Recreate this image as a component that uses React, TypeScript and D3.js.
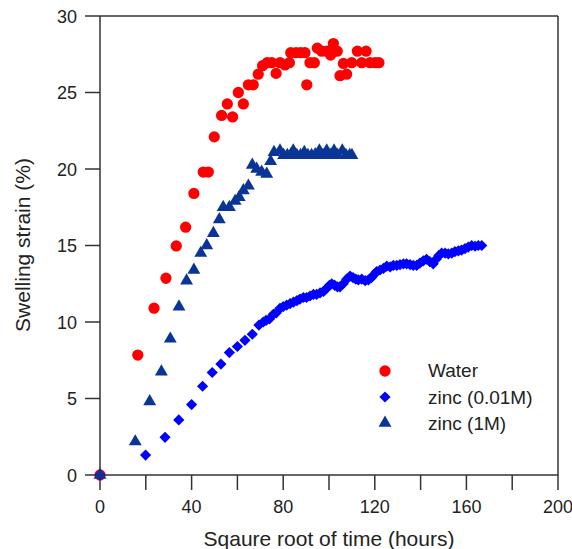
import React from "react";
import * as d3 from "d3";

const W = 572;
const H = 549;

const xTicks = [0, 40, 80, 120, 160, 200];
const xMinorTicks = [20, 60, 100, 140, 180];
const yTicks = [0, 5, 10, 15, 20, 25, 30];

// Water (sqrt time, strain)
const waterX = [0, 16.5, 23.6, 28.8, 33.3, 37.4, 41, 45.1, 47.3, 49.9, 53.1, 55.6, 57.9, 60.4, 62.6, 64.8, 66.9, 69.1, 71, 73, 75, 76.9, 78.6, 80.8, 82.7, 83.3, 85.6, 87.6, 89.5, 90.3, 91.7, 93.6, 94.9, 96.8, 99, 100.7, 101.9, 103.6, 104.8, 106.3, 107.7, 109.9, 112.4, 114.3, 116.2, 117.9, 120.1, 121.8];
const waterY = [0, 7.84, 10.9, 12.86, 14.97, 16.2, 18.4, 19.8, 19.8, 22.1, 23.5, 24.25, 23.4, 25.0, 24.25, 25.5, 25.5, 26.2, 26.75, 26.95, 26.95, 26.25, 26.95, 26.8, 26.95, 27.6, 27.6, 27.6, 27.6, 25.5, 26.95, 26.95, 27.9, 27.7, 27.7, 27.45, 28.2, 27.7, 26.1, 26.9, 26.2, 26.95, 27.7, 26.95, 27.7, 26.95, 26.95, 26.95];

// zinc (0.01M)
const zincLowX = [0, 19.9, 28.4, 34.4, 40, 44.8, 49, 52.8, 56.5, 60, 63.3, 66.5, 69.4, 71.3, 72.5, 74.0, 75.7, 77.0, 78.6, 80.0, 81.5, 83.0, 84.5, 86.0, 87.3, 88.8, 90.2, 91.7, 93.2, 94.6, 96.1, 97.6, 99.0, 100.2, 101.2, 102.5, 103.7, 104.8, 106.2, 107.7, 109.2, 110.5, 111.7, 112.8, 114.3, 115.8, 117.2, 118.5, 119.7, 120.8, 122.3, 123.8, 125.2, 126.7, 128.1, 129.6, 131.0, 132.5, 133.9, 135.4, 136.8, 138.3, 139.7, 141.2, 142.6, 144.0, 145.5, 146.8, 148.0, 149.2, 150.7, 152.1, 153.6, 155.0, 156.5, 157.9, 159.4, 160.8, 162.3, 163.8, 165.2, 166.7];
const zincLowY = [0, 1.3, 2.46, 3.6, 4.6, 5.8, 6.7, 7.25, 8.0, 8.4, 8.8, 9.2, 9.8, 10.0, 10.1, 10.2, 10.5, 10.6, 10.9, 11.0, 11.1, 11.2, 11.3, 11.4, 11.5, 11.6, 11.6, 11.7, 11.8, 11.8, 11.9, 12.0, 12.2, 12.4, 12.5, 12.4, 12.3, 12.3, 12.5, 12.8, 13.0, 12.9, 12.8, 12.75, 12.8, 12.7, 12.75, 12.9, 13.1, 13.3, 13.4, 13.5, 13.65, 13.6, 13.7, 13.7, 13.75, 13.8, 13.8, 13.75, 13.7, 13.7, 13.85, 14.0, 14.1, 13.95, 13.8, 14.1, 14.35, 14.5, 14.5, 14.45, 14.5, 14.6, 14.65, 14.7, 14.8, 14.9, 15.0, 14.95, 15.0, 15.0];

// zinc (1M)
const zincHighX = [0, 15.4, 21.7, 26.8, 30.7, 34.5, 37.8, 41, 44, 46.6, 49.5, 52.1, 53.8, 56.5, 59, 60.8, 62.6, 64.8, 66.5, 68.4, 70.6, 72.8, 74.5, 76, 78.6, 80.2, 81.8, 83.4, 84.4, 86.0, 87.6, 89.2, 90.8, 92.4, 94.0, 95.8, 97.4, 99.0, 100.6, 102.2, 103.8, 105.8, 107.4, 109.0, 110.0];
const zincHighY = [0, 2.18, 4.8, 6.75, 8.9, 11.0, 12.7, 13.4, 14.5, 15.0, 15.8, 16.7, 17.5, 17.5, 17.9, 18.15, 18.6, 18.9, 20.26, 20.0, 19.8, 19.67, 20.5, 21.1, 21.2, 20.9, 20.9, 20.95, 21.2, 20.9, 20.9, 21.1, 20.9, 20.9, 20.95, 21.2, 20.9, 21.2, 20.9, 21.2, 20.9, 21.2, 20.9, 20.9, 20.9];

const legendLabels = ["Water", "zinc (0.01M)", "zinc (1M)"];

const RED = "#ff0000";
const BLUE = "#0000ff";
const NAVY = "#0a3596";
const AXIS = "#333333";
const FONT = "'Liberation Sans', Arial, sans-serif";

const x = d3.scaleLinear().domain([0, 200]).range([100, 558]);
const y = d3.scaleLinear().domain([0, 30]).range([475, 16]);

const circleSym = d3.symbol().type(d3.symbolCircle).size(100)()!;
const diamondSym = d3.symbol().type(d3.symbolDiamond2).size(80)()!;
const triSym = d3.symbol().type(d3.symbolTriangle).size(72)()!;

export default function App() {
  const x0 = x(0), x1 = x(200), y0 = y(0), y1 = y(30);
  return (
    <svg width={W} height={H} style={{ position: "absolute", left: 0, top: 0, background: "#fff" }} fontFamily={FONT}>
      <rect x={0} y={0} width={W} height={H} fill="#fff" />
      {/* frame */}
      <g stroke={AXIS} strokeWidth={1.5} fill="none">
        <line x1={x0} y1={y0} x2={x1} y2={y0} />
        <line x1={x0} y1={y0} x2={x0} y2={y1} />
        <line x1={x0} y1={y1} x2={x1} y2={y1} />
        <line x1={x1} y1={y0} x2={x1} y2={y1} />
        {[...xTicks, ...xMinorTicks].map((t) => (
          <line key={"xt" + t} x1={x(t)} x2={x(t)} y1={y0} y2={y0 + 15} />
        ))}
        {yTicks.map((t) => (
          <line key={"yt" + t} x1={x0 - 15} x2={x0} y1={y(t)} y2={y(t)} />
        ))}
      </g>
      <g fontSize={18} fill="#222">
        {xTicks.map((t) => (
          <text key={"xl" + t} x={x(t)} y={y0 + 38} textAnchor="middle">{t}</text>
        ))}
        {yTicks.map((t) => (
          <text key={"yl" + t} x={x0 - 23} y={y(t) + 6.5} textAnchor="end">{t}</text>
        ))}
      </g>
      <text x={329} y={546} textAnchor="middle" fontSize={21} fill="#222">Sqaure root of time (hours)</text>
      <text transform={`translate(30,245) rotate(-90)`} textAnchor="middle" fontSize={21} fill="#222">Swelling strain (%)</text>

      {/* data */}
      <g fill={RED}>
        {waterX.map((v, i) => (
          <path key={"w" + i} d={circleSym} transform={`translate(${x(v)},${y(waterY[i])})`} />
        ))}
      </g>
      <g fill={BLUE}>
        {zincLowX.map((v, i) => (
          <path key={"zl" + i} d={diamondSym} transform={`translate(${x(v)},${y(zincLowY[i])})`} />
        ))}
      </g>
      <g fill={NAVY}>
        {zincHighX.map((v, i) => (
          <path key={"zh" + i} d={triSym} transform={`translate(${x(v)},${y(zincHighY[i])})`} />
        ))}
      </g>

      {/* legend */}
      <g>
        <path d={circleSym} fill={RED} transform="translate(385,371)" />
        <path d={diamondSym} fill={BLUE} transform="translate(385,397)" />
        <path d={triSym} fill={NAVY} transform="translate(385,423)" />
        {legendLabels.map((l, i) => (
          <text key={l} x={428} y={377 + i * 26.5} fontSize={19} fill="#222">{l}</text>
        ))}
      </g>
    </svg>
  );
}
